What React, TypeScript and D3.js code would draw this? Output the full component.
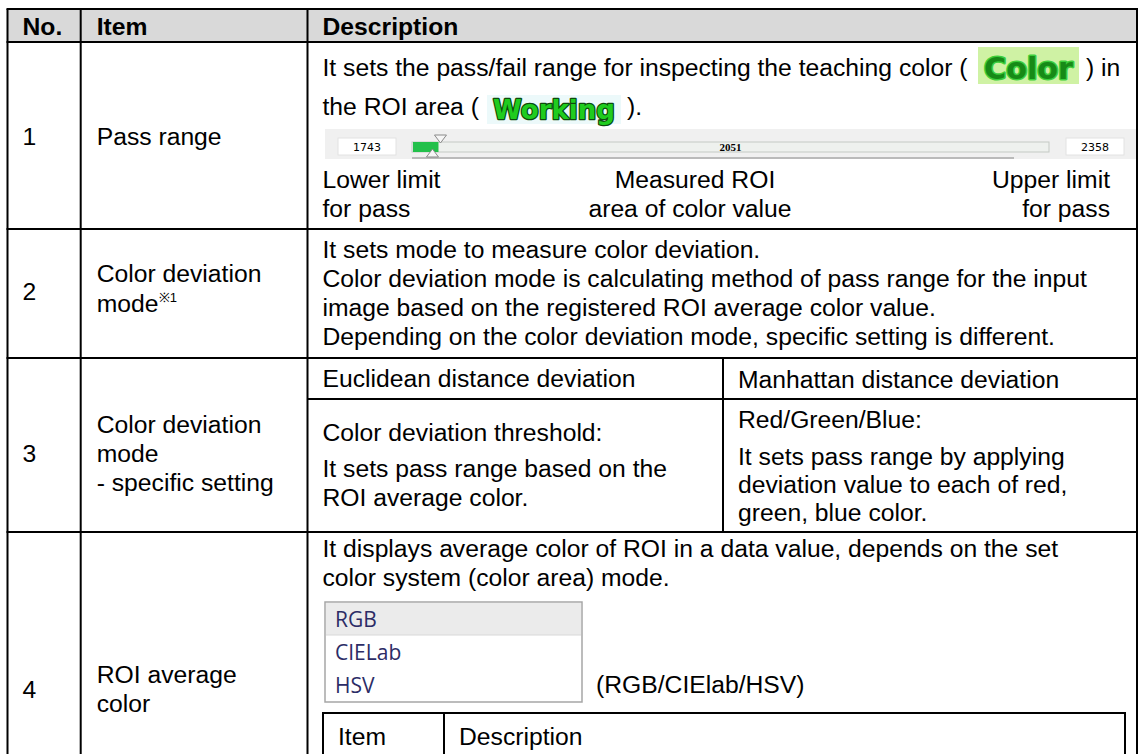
import * as d3 from "d3";

// table content
const headers = ["No.", "Item", "Description"];
const rowNos = ["1", "2", "3", "4"];
const row1Item = "Pass range";
const row1Line1 = "It sets the pass/fail range for inspecting the teaching color (";
const row1Line1End = ") in";
const row1Line2 = "the ROI area (";
const row1Line2End = ").";
const badgeWords = ["Color", "Working"];
const sliderValues = { lower: 1743, measured: 2051, upper: 2358 };
const sliderFillPct = 4; // green part of the track, in percent
const sliderLabels = [
  ["Lower limit", "for pass"],
  ["Measured ROI", "area of color value"],
  ["Upper limit", "for pass"],
];
const row2Item = ["Color deviation", "mode"];
const row2Note = "※1";
const row2Desc = [
  "It sets mode to measure color deviation.",
  "Color deviation mode is calculating method of pass range for the input",
  "image based on the registered ROI average color value.",
  "Depending on the color deviation mode, specific setting is different.",
];
const row3Item = ["Color deviation", "mode", "- specific setting"];
const row3Heads = ["Euclidean distance deviation", "Manhattan distance deviation"];
const row3Left = ["Color deviation threshold:", "It sets pass range based on the", "ROI average color."];
const row3Right = ["Red/Green/Blue:", "It sets pass range by applying", "deviation value to each of red,", "green, blue color."];
const row4Item = ["ROI average", "color"];
const row4Desc = [
  "It displays average color of ROI in a data value, depends on the set",
  "color system (color area) mode.",
];
const colorSystems = ["RGB", "CIELab", "HSV"];
const colorSystemNote = "(RGB/CIElab/HSV)";
const innerHeaders = ["Item", "Description"];

const W = 1141;
const H = 754;
const FS = 24.7;
const FONT = "'Liberation Sans', Arial, sans-serif";

// layout grid
const X0 = 7.5, X1 = 80.7, X2 = 307.5, X3 = 1137, XM = 723;
const Y0 = 9, Y1 = 42, Y2 = 229, Y3 = 358, Y3s = 399, Y4 = 532;
const PAD_L = 15;

function T({ x, y, children, anchor = "start", size = FS, weight = "normal", fill = "#000", family = FONT }: any) {
  return (
    <text x={x} y={y} textAnchor={anchor} fontSize={size} fontWeight={weight} fill={fill} fontFamily={family}>
      {children}
    </text>
  );
}

function tri(cx: number, y0: number, y1: number, hw: number) {
  const p = d3.path();
  p.moveTo(cx - hw, y0);
  p.lineTo(cx + hw, y0);
  p.lineTo(cx, y1);
  p.closePath();
  return p.toString();
}

function Slider() {
  const track = { x0: 412, x1: 1049, y0: 142, y1: 152 };
  const x = d3.scaleLinear().domain([0, 100]).range([track.x0, track.x1]);
  const fillEnd = x(sliderFillPct);
  const boxY = 138, boxH = 17;
  const small = "'DejaVu Sans', sans-serif";
  return (
    <g>
      <rect x={325} y={129} width={X3 - 1 - 325} height={30} fill="#f0f0f0" />
      <line x1={track.x0} x2={1014} y1={158} y2={158} stroke="#a9a9a9" strokeWidth={1.5} />
      <rect x={338} y={boxY} width={58} height={boxH} fill="#fff" stroke="#e2e2e2" />
      <rect x={1066} y={boxY} width={58} height={boxH} fill="#fff" stroke="#e2e2e2" />
      <T x={367} y={151} anchor="middle" size={11} family={small}>{sliderValues.lower}</T>
      <T x={1095} y={151} anchor="middle" size={11} family={small}>{sliderValues.upper}</T>
      <rect x={track.x0} y={track.y0} width={track.x1 - track.x0} height={track.y1 - track.y0} fill="#eef1ee" stroke="#c4c9c4" />
      <rect x={track.x0 + 1} y={track.y0} width={fillEnd - track.x0} height={track.y1 - track.y0} fill="#22c04a" />
      <T x={(track.x0 + track.x1) / 2} y={151} anchor="middle" size={11} weight="bold" family="'Liberation Serif', serif">
        {sliderValues.measured}
      </T>
      <path d={tri(fillEnd + 3, 135, 143, 6)} fill="#f6f6f6" stroke="#8a8a8a" />
      <path d={tri(fillEnd - 5, 157, 149, 6)} fill="#f6f6f6" stroke="#8a8a8a" />
    </g>
  );
}

function Badge({ x, y, w, h, text, size, bg, fill, stroke, sw }: any) {
  return (
    <g>
      <rect x={x} y={y} width={w} height={h} fill={bg} />
      <text
        x={x + w / 2}
        y={y + h - 5}
        textAnchor="middle"
        fontSize={size}
        fontWeight="bold"
        fontFamily="'DejaVu Sans', sans-serif"
        fill={fill}
        stroke={stroke}
        strokeWidth={sw}
        paintOrder="stroke"
        strokeLinejoin="round"
        textLength={w - 12}
        lengthAdjust="spacingAndGlyphs"
      >
        {text}
      </text>
    </g>
  );
}

export default function App() {
  const lw = 2;
  const hLines = [Y0, Y1, Y2, Y3, Y4];
  const vLines = [X0, X1, X2, X3];
  const gap = 29;
  const cx = X2 + PAD_L; // description text x
  const ix = X1 + 16; // item text x
  const nx = X0 + 15; // number text x
  const rx = XM + PAD_L; // right sub-cell x
  return (
    <svg width={W} height={H} style={{ position: "absolute", left: 0, top: 0, background: "#fff" }}>
      <rect x={X0} y={Y0} width={X3 - X0} height={Y1 - Y0} fill="#d9d9d9" />

      {/* row 1 */}
      <T x={cx} y={76}>{row1Line1}</T>
      <Badge x={978} y={47} w={101} h={37} size={30} text={badgeWords[0]} bg="#cff2a4" fill="#178a17" stroke="#3ccf3c" sw={3} />
      <T x={1086} y={76}>{row1Line1End}</T>
      <T x={cx} y={115}>{row1Line2}</T>
      <Badge x={487} y={95} w={134} h={29} size={27} text={badgeWords[1]} bg="#ecf9fa" fill="#1fcc1f" stroke="#0d4a0d" sw={2.5} />
      <T x={627} y={115}>{row1Line2End}</T>
      <Slider />
      {sliderLabels[0].map((s, i) => (
        <T key={"l" + i} x={cx} y={188 + i * gap}>{s}</T>
      ))}
      <T x={695} y={188} anchor="middle">{sliderLabels[1][0]}</T>
      <T x={690} y={188 + gap} anchor="middle">{sliderLabels[1][1]}</T>
      {sliderLabels[2].map((s, i) => (
        <T key={"u" + i} x={1110} y={188 + i * gap} anchor="end">{s}</T>
      ))}

      {/* row 2 */}
      {row2Desc.map((s, i) => (
        <T key={"d2" + i} x={cx} y={258 + i * gap}>{s}</T>
      ))}

      {/* row 3 */}
      <line x1={X2} x2={X3} y1={Y3s} y2={Y3s} stroke="#000" strokeWidth={lw} />
      <line x1={XM} x2={XM} y1={Y3} y2={Y4} stroke="#000" strokeWidth={lw} />
      <T x={cx} y={387}>{row3Heads[0]}</T>
      <T x={rx} y={388}>{row3Heads[1]}</T>
      <T x={cx} y={441}>{row3Left[0]}</T>
      {row3Left.slice(1).map((s, i) => (
        <T key={"l3" + i} x={cx} y={477 + i * gap}>{s}</T>
      ))}
      <T x={rx} y={428}>{row3Right[0]}</T>
      {row3Right.slice(1).map((s, i) => (
        <T key={"r3" + i} x={rx} y={465 + i * 28}>{s}</T>
      ))}

      {/* row 4 */}
      {row4Desc.map((s, i) => (
        <T key={"d4" + i} x={cx} y={557 + i * gap}>{s}</T>
      ))}
      <rect x={325} y={602} width={257} height={100} fill="#fff" stroke="#a6a6a6" strokeWidth={1.5} />
      <rect x={326} y={603} width={255} height={32} fill="#ebebeb" />
      <line x1={326} x2={581} y1={635} y2={635} stroke="#d8d8d8" />
      {colorSystems.map((s, i) => (
        <T key={"cs" + i} x={335} y={627 + i * 33} size={21} fill="#2c2c66" family="'Open Sans', sans-serif">{s}</T>
      ))}
      <T x={596} y={693}>{colorSystemNote}</T>
      <line x1={323} x2={1125} y1={713} y2={713} stroke="#000" strokeWidth={lw} />
      {[323, 444, 1125].map((x) => (
        <line key={"iv" + x} x1={x} x2={x} y1={712} y2={H + 2} stroke="#000" strokeWidth={lw} />
      ))}
      <T x={338} y={745}>{innerHeaders[0]}</T>
      <T x={459} y={745}>{innerHeaders[1]}</T>

      {/* left columns */}
      <T x={nx} y={35} weight="bold">{headers[0]}</T>
      <T x={ix} y={35} weight="bold">{headers[1]}</T>
      <T x={cx} y={35} weight="bold">{headers[2]}</T>
      <T x={nx} y={145}>{rowNos[0]}</T>
      <T x={ix} y={145}>{row1Item}</T>
      <T x={nx} y={300}>{rowNos[1]}</T>
      <T x={ix} y={282}>{row2Item[0]}</T>
      <T x={ix} y={312}>{row2Item[1]}</T>
      <T x={ix + 62} y={302} size={13}>{row2Note}</T>
      <T x={nx} y={462}>{rowNos[2]}</T>
      {row3Item.map((s, i) => (
        <T key={"i3" + i} x={ix} y={433 + i * gap}>{s}</T>
      ))}
      <T x={nx} y={698}>{rowNos[3]}</T>
      {row4Item.map((s, i) => (
        <T key={"i4" + i} x={ix} y={683 + i * gap}>{s}</T>
      ))}

      {/* grid */}
      {hLines.map((y) => (
        <line key={"h" + y} x1={X0 - 1} x2={X3 + 1} y1={y} y2={y} stroke="#000" strokeWidth={lw} />
      ))}
      {vLines.map((x) => (
        <line key={"v" + x} x1={x} x2={x} y1={Y0} y2={H + 2} stroke="#000" strokeWidth={lw} />
      ))}
    </svg>
  );
}
